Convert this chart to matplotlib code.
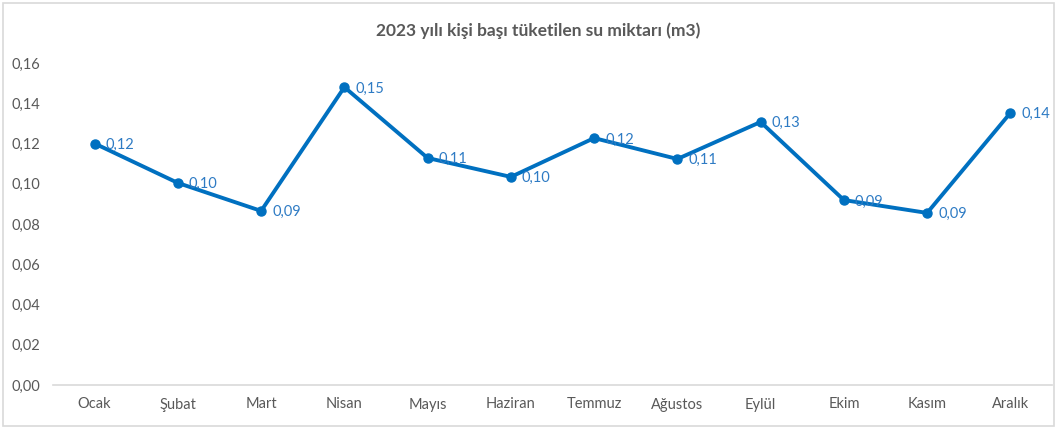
import matplotlib
matplotlib.use("Agg")
import matplotlib.pyplot as plt
from matplotlib.patches import Rectangle
from matplotlib.ticker import FuncFormatter

months = ["Ocak", "Şubat", "Mart", "Nisan", "Mayıs", "Haziran", "Temmuz",
          "Ağustos", "Eylül", "Ekim", "Kasım", "Aralık"]
values = [0.120, 0.1004, 0.0865, 0.148, 0.1128, 0.1034, 0.1227,
          0.1123, 0.1307, 0.0919, 0.0855, 0.1352]
title = "2023 yılı kişi başı tüketilen su miktarı (m3)"
yticks = [0.00, 0.02, 0.04, 0.06, 0.08, 0.10, 0.12, 0.14, 0.16]

plt.rcParams['font.family'] = ['Lato', 'DejaVu Sans']
W, H = 1058, 428
fig = plt.figure(figsize=(W / 100, H / 100), dpi=100)
ax = fig.add_axes([53 / W, 1 - 385 / H, (1052 - 53) / W, (385 - 63) / H])

line_c = "#0070C0"
ax.plot(range(len(months)), values, color=line_c, lw=2.8, marker="o",
        markersize=6.5, solid_capstyle="round", zorder=3)
for i, v in enumerate(values):
    ax.annotate(f"{v:.2f}".replace(".", ","), (i, v), xytext=(8, -1),
                textcoords="offset points", va="center", ha="left",
                fontsize=10.5, color="#2E7BC4")

ax.set_xlim(-0.5, len(months) - 0.5)
ax.set_ylim(0, 0.16)
ax.set_yticks(yticks)
ax.yaxis.set_major_formatter(FuncFormatter(lambda y, p: f"{y:.2f}".replace(".", ",")))
ax.set_xticks(range(len(months)))
ax.set_xticklabels(months)
for s in ["top", "right", "left"]:
    ax.spines[s].set_visible(False)
ax.spines["bottom"].set_color("#D9D9D9")
ax.spines["bottom"].set_linewidth(1.2)
ax.tick_params(axis="both", length=0, labelsize=10.5, labelcolor="#595959")
ax.tick_params(axis="y", pad=9)
ax.tick_params(axis="x", pad=9)

fig.text(538 / W, 1 - 31 / H, title, ha="center", va="center",
         fontsize=12.5, fontweight="bold", color="#595959")

fig.patches.append(Rectangle((3 / W, 2 / H), (1054 - 3) / W, (425 - 2) / H,
                             transform=fig.transFigure, fill=False,
                             edgecolor="#D9D9D9", lw=1.2))

fig.savefig("out.png", dpi=100, facecolor="white")
